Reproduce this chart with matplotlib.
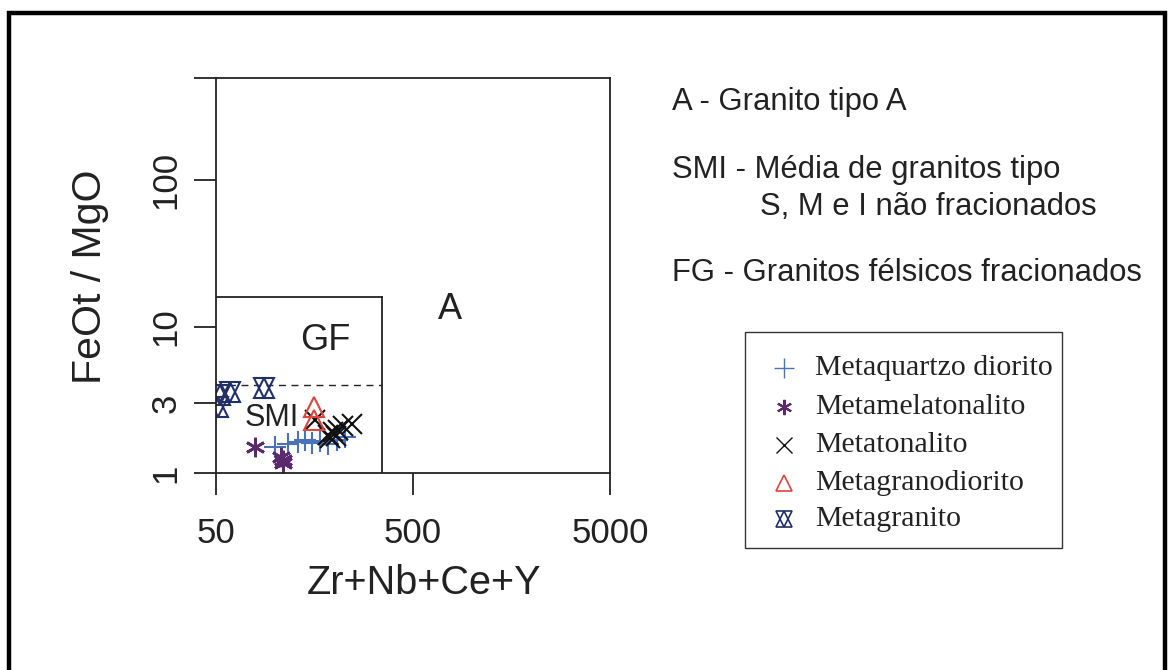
import matplotlib
matplotlib.use("Agg")
import matplotlib.pyplot as plt
from matplotlib.patches import Rectangle
from matplotlib.lines import Line2D

# ---- data ----
qd_x = [99.7, 116, 130, 141, 153, 169, 185, 206, 226]
qd_y = [1.50, 1.58, 1.63, 1.68, 1.60, 1.65, 1.58, 1.68, 1.76]
mel_x = [78.9, 109, 107, 110]
mel_y = [1.50, 1.23, 1.29, 1.17]
ton_x = [159, 185, 196, 208, 221, 245, 190, 203]
ton_y = [2.30, 1.82, 1.90, 1.97, 2.09, 2.16, 1.73, 1.79]
gd_x = [157, 157]
gd_y = [2.82, 2.30]
gr_x = [51.2, 52.4, 58.9, 87.6]
gr_y = [2.82, 3.41, 3.57, 3.80]

labels = ["Metaquartzo diorito", "Metamelatonalito", "Metatonalito",
          "Metagranodiorito", "Metagranito"]
xticks = [50, 500, 5000]
yticks = [1, 3, 10, 100, 500]
ytick_labels = ["1", "3", "10", "100", ""]

# ---- figure ----
W, H = 1170, 670
fig = plt.figure(figsize=(W / 100, H / 100), dpi=100)
plt.rcParams['font.family'] = ['Liberation Sans', 'DejaVu Sans']

def fx(px): return px / W
def fy(py): return 1 - py / H

tc = '#222222'
ax = fig.add_axes([fx(216), fy(473), fx(610) - fx(216), fy(78) - fy(473)])
ax.set_xscale('log')
ax.set_yscale('log')
ax.set_xlim(50, 5000)
ax.set_ylim(1, 10 ** ((473 - 78) / 146.5))
ax.minorticks_off()
ax.set_xticks(xticks)
ax.set_xticklabels([str(t) for t in xticks], fontsize=25, color=tc)
ax.set_yticks(yticks)
ax.set_yticklabels(ytick_labels, fontsize=25, rotation=90, va='center', color=tc)
ax.tick_params(axis='both', length=16, width=1.3, color=tc)
ax.tick_params(axis='x', pad=16)
ax.tick_params(axis='y', pad=8)
for s in ax.spines.values():
    s.set_linewidth(1.3)
    s.set_color(tc)
fig.text(fx(424), fy(583), "Zr+Nb+Ce+Y", fontsize=28.5, ha='center', va='center', color=tc)
fig.text(fx(90), fy(277), "FeOt / MgO", fontsize=29.5, ha='center', va='center',
         rotation=90, color=tc)

# field boundaries
ax.plot([350, 350], [1, 16], color=tc, lw=1.3)
ax.plot([50, 350], [16, 16], color=tc, lw=1.3)
ax.plot([50, 350], [4, 4], color=tc, lw=1.0, ls=(0, (5, 4)))
ax.text(179, 8.1, "GF", fontsize=26, ha='center', va='center', color=tc)
ax.text(770, 13, "A", fontsize=26, ha='center', va='center', color=tc)
ax.text(96, 2.37, "SMI", fontsize=22, ha='center', va='center', color=tc)

c_qd = '#4a72b8'
c_mel = '#5b2a6e'
c_ton = '#111111'
c_gd = '#d9473f'
c_gr = '#22306a'

ax.plot(qd_x, qd_y, ls='none', marker='+', ms=16, mew=1.5, color=c_qd)
ax.plot(mel_x, mel_y, ls='none', marker=(6, 2, 0), ms=14, mew=2.0, color=c_mel)
ax.plot(ton_x, ton_y, ls='none', marker='x', ms=14, mew=1.5, color=c_ton)
ax.plot(gd_x, gd_y, ls='none', marker='^', ms=15, mew=1.5, mfc='none', mec=c_gd)
ax.plot(gr_x, gr_y, ls='none', marker='^', ms=15, mew=1.5, mfc='none', mec=c_gr)
ax.plot(gr_x, gr_y, ls='none', marker='v', ms=15, mew=1.5, mfc='none', mec=c_gr)

# legend (drawn in figure coordinates)
fig.patches.append(Rectangle((fx(745), fy(548)), fx(1062) - fx(745), fy(332) - fy(548),
                             transform=fig.transFigure, fill=False,
                             edgecolor='#333333', lw=1.0))
rows = [368, 407, 445, 483, 519]
handles = [
    [dict(marker='+', ms=15, mew=1.0, color=c_qd)],
    [dict(marker=(6, 2, 0), ms=11, mew=1.5, color=c_mel)],
    [dict(marker='x', ms=11, mew=1.0, color=c_ton)],
    [dict(marker='^', ms=12, mew=1.2, mfc='none', mec=c_gd)],
    [dict(marker='^', ms=12, mew=1.2, mfc='none', mec=c_gr),
     dict(marker='v', ms=12, mew=1.2, mfc='none', mec=c_gr)],
]
for ry, hs, lab in zip(rows, handles, labels):
    for h in hs:
        fig.add_artist(Line2D([fx(784)], [fy(ry)], ls='none', transform=fig.transFigure, **h))
    fig.text(fx(815), fy(ry), lab, fontsize=21.5, va='center', color=tc,
             family=['Liberation Serif', 'DejaVu Serif'])

# right-side annotations
fs = 22.3
fig.text(fx(672), fy(102), "A - Granito tipo A", fontsize=fs, va='center', color=tc)
fig.text(fx(672), fy(170), "SMI - Média de granitos tipo", fontsize=fs, va='center', color=tc)
fig.text(fx(760), fy(207), "S, M e I não fracionados", fontsize=fs, va='center', color=tc)
fig.text(fx(672), fy(273), "FG - Granitos félsicos fracionados", fontsize=fs, va='center', color=tc)

# outer frame
fig.patches.append(Rectangle((fx(9), fy(700)), fx(1165) - fx(9), fy(13) - fy(700),
                             transform=fig.transFigure, fill=False,
                             edgecolor='black', lw=3.2, clip_on=False))

fig.savefig("out.png", dpi=100, facecolor='white')
